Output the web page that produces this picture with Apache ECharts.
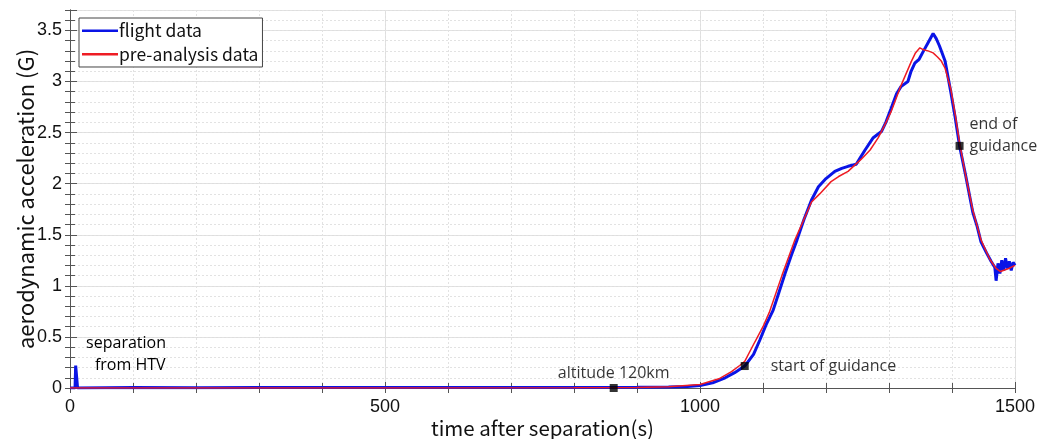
<!DOCTYPE html>
<html>
<head>
<meta charset="utf-8">
<script src="https://cdn.jsdelivr.net/npm/echarts@6/dist/echarts.min.js"></script>
<style>
  html, body { margin: 0; padding: 0; background: #fff; }
  #chart { width: 1046px; height: 439px; }
</style>
</head>
<body>
<div id="chart"></div>
<script>
// flight data (blue)
var flightTime = [0, 8, 9, 11, 12, 100, 200, 300, 400, 500, 600, 700, 800, 900, 950, 980, 1000, 1020, 1040, 1055,
  1071, 1085, 1095, 1105, 1116, 1125, 1135, 1145, 1154, 1165, 1177, 1188, 1200, 1214, 1225, 1235, 1248, 1255, 1262,
  1275, 1288, 1295, 1303, 1312, 1319, 1330, 1335, 1341, 1348, 1354, 1362, 1370, 1375, 1380, 1389, 1398, 1405, 1412,
  1422, 1433, 1440, 1446, 1455, 1462, 1468, 1470, 1473, 1476, 1479, 1482, 1485, 1488, 1491, 1494, 1497, 1500]
var flightAccel = [0, 0, 0.22, 0.22, 0, 0.005, 0.003, 0.005, 0.004, 0.005, 0.004, 0.006, 0.005, 0.008, 0.01, 0.015, 0.025, 0.05, 0.1, 0.15,
  0.215, 0.33, 0.47, 0.62, 0.76, 0.93, 1.12, 1.3, 1.45, 1.65, 1.84, 1.97, 2.05, 2.12, 2.15, 2.17, 2.19, 2.26, 2.33,
  2.45, 2.51, 2.6, 2.73, 2.88, 2.95, 3.0, 3.1, 3.18, 3.22, 3.29, 3.38, 3.47, 3.42, 3.35, 3.2, 2.9, 2.65, 2.37,
  2.07, 1.72, 1.58, 1.43, 1.32, 1.24, 1.18, 1.05, 1.22, 1.12, 1.25, 1.15, 1.27, 1.17, 1.24, 1.15, 1.23, 1.2]

// pre-analysis data (red)
var preTime = [0, 500, 800, 900, 950, 1000, 1030, 1050, 1063, 1071, 1087, 1100, 1110, 1130, 1150, 1177, 1190, 1208,
  1220, 1235, 1256, 1270, 1283, 1293, 1303, 1319, 1335, 1342, 1349, 1355, 1362, 1370, 1377, 1383, 1389, 1398, 1405,
  1412, 1422, 1433, 1446, 1460, 1470, 1477, 1490, 1500]
var preAccel = [0, 0, 0.002, 0.006, 0.012, 0.035, 0.09, 0.16, 0.22, 0.26, 0.45, 0.6, 0.74, 1.1, 1.44, 1.82, 1.9, 2.02,
  2.07, 2.12, 2.24, 2.33, 2.45, 2.57, 2.7, 2.96, 3.19, 3.28, 3.33, 3.31, 3.3, 3.28, 3.24, 3.2, 3.13, 2.93, 2.68,
  2.4, 2.07, 1.74, 1.45, 1.26, 1.17, 1.14, 1.17, 1.2]

// events marked with black squares
var eventTimes = [863, 1071, 1412]
var eventValues = [0, 0.215, 2.37]
var eventLabels = ['altitude 120km', 'start of guidance', 'end of\nguidance']

// separation note
var sepTime = 89
var sepValue = 0.33
var sepLabel = 'separation\n  from HTV'

function pairs (xs, ys) {
  var out = []
  for (var i = 0; i < xs.length; i++) out.push([xs[i], ys[i]])
  return out
}

var axisColor = '#555'
var tickFont = { color: '#111', fontSize: 18, fontFamily: 'Liberation Sans' }
var noteFont = { color: '#000', fontSize: 16, fontFamily: 'Open Sans', lineHeight: 22 }

var chart = echarts.init(document.getElementById('chart'))
chart.setOption({
  animation: false,
  grid: { left: 70, right: 31, top: 10, bottom: 51, outerBoundsMode: 'none' },
  legend: {
    data: [
      { name: 'flight data', icon: 'rect' },
      { name: 'pre-analysis data', icon: 'rect' }
    ],
    orient: 'vertical',
    left: 79,
    top: 18,
    itemWidth: 36,
    itemHeight: 2.5,
    itemGap: 6,
    padding: [4, 4, 4, 3],
    backgroundColor: '#fff',
    borderColor: '#444',
    borderWidth: 1,
    borderRadius: 0,
    textStyle: { color: '#111', fontSize: 17.5, fontFamily: 'Noto Sans CJK JP', padding: [0, 0, 0, -4] }
  },
  xAxis: [
    {
      type: 'value', min: 0, max: 1500, interval: 500, position: 'bottom',
      name: 'time after separation(s)', nameLocation: 'middle', nameGap: 30, nameMoveOverlap: false,
      nameTextStyle: { color: '#111', fontSize: 20.5, fontFamily: 'Noto Sans CJK JP' },
      axisLine: { show: true, lineStyle: { color: axisColor } },
      axisTick: { inside: true, length: 6, lineStyle: { color: axisColor } },
      axisLabel: Object.assign({ margin: 10, formatter: function (v) { return String(v) } }, tickFont),
      splitLine: { show: true, lineStyle: { color: '#dedede', width: 1 } }
    },
    {
      type: 'value', min: 0, max: 1500, interval: 100, position: 'bottom',
      axisLine: { show: false },
      axisTick: { inside: true, length: 5, lineStyle: { color: axisColor } },
      axisLabel: { show: false },
      splitLine: { show: true, lineStyle: { color: '#e2e2e2', type: [2, 2] } }
    },
    {
      type: 'value', min: 0, max: 1500, interval: 100, position: 'top',
      axisLine: { show: true, lineStyle: { color: axisColor } },
      axisTick: { inside: true, length: 5, lineStyle: { color: axisColor } },
      axisLabel: { show: false },
      splitLine: { show: false }
    }
  ],
  yAxis: [
    {
      type: 'value', min: 0, max: 3.7, interval: 0.5, position: 'left',
      name: 'aerodynamic acceleration (G)', nameLocation: 'middle', nameGap: 33, nameMoveOverlap: false,
      nameTextStyle: { color: '#111', fontSize: 22, fontFamily: 'Noto Sans CJK JP' },
      axisLine: { show: true, lineStyle: { color: axisColor } },
      axisTick: { inside: true, length: 7, lineStyle: { color: axisColor } },
      axisLabel: Object.assign({
        margin: 8,
        formatter: function (v) { return v > 3.5 ? '' : String(v) }
      }, tickFont),
      splitLine: { show: true, lineStyle: { color: '#dedede', width: 1 } }
    },
    {
      type: 'value', min: 0, max: 3.7, interval: 0.1, position: 'left',
      axisLine: { show: false },
      axisTick: { inside: true, length: 5, lineStyle: { color: axisColor } },
      axisLabel: { show: false },
      splitLine: { show: true, lineStyle: { color: '#e2e2e2', type: [2, 2] } }
    },
    {
      type: 'value', min: 0, max: 3.7, interval: 0.1, position: 'right',
      axisLine: { show: true, lineStyle: { color: axisColor } },
      axisTick: { inside: true, length: 5, lineStyle: { color: axisColor } },
      axisLabel: { show: false },
      splitLine: { show: false }
    }
  ],
  series: [
    {
      name: 'flight data',
      type: 'line',
      symbol: 'none',
      data: pairs(flightTime, flightAccel),
      itemStyle: { color: '#0a14e6' },
      lineStyle: { color: '#0a14e6', width: 3 },
      markPoint: {
        symbol: 'circle',
        symbolSize: 0,
        data: [{ coord: [sepTime, sepValue], value: sepLabel }],
        label: Object.assign({ show: true, position: 'inside', align: 'center', formatter: '{c}' }, noteFont)
      }
    },
    {
      name: 'pre-analysis data',
      type: 'line',
      symbol: 'none',
      data: pairs(preTime, preAccel),
      itemStyle: { color: '#ee1c24' },
      lineStyle: { color: '#ee1c24', width: 1.5 }
    },
    {
      name: 'events',
      type: 'scatter',
      symbol: 'rect',
      symbolSize: 8,
      itemStyle: { color: '#000' },
      data: eventTimes.map(function (t, i) {
        var lab
        if (i === 0) lab = { position: 'top', distance: 0 }
        else if (i === 1) lab = { position: 'right', distance: 22 }
        else lab = { position: 'right', distance: 6, offset: [0, -10] }
        return { value: [t, eventValues[i]], name: eventLabels[i], label: lab }
      }),
      label: Object.assign({ show: true, formatter: '{b}' }, noteFont),
      z: 5
    }
  ]
})
</script>
</body>
</html>
